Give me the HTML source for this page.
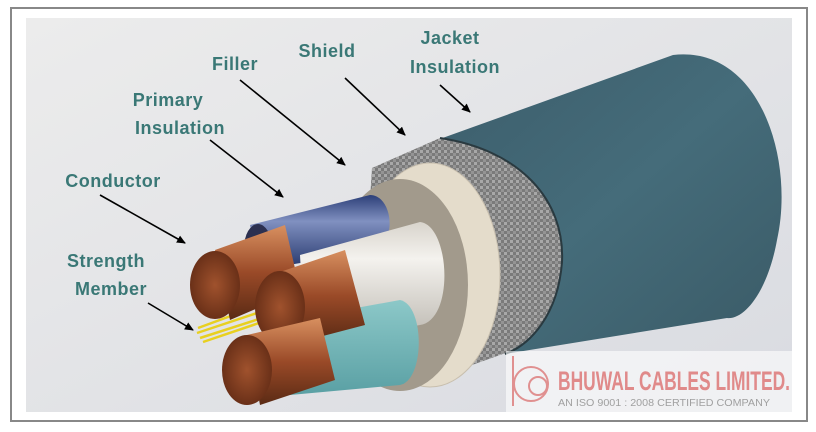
<!DOCTYPE html>
<html><head><meta charset="utf-8"><style>
html,body{margin:0;padding:0;background:#fff;}
svg{display:block}
.l{font-family:"Liberation Sans",sans-serif;font-weight:bold;font-size:18px;fill:#3a7876;letter-spacing:0.5px;text-anchor:middle}
</style></head><body>
<svg width="816" height="432" viewBox="0 0 816 432" xmlns="http://www.w3.org/2000/svg">
<defs>
<linearGradient id="bg" x1="0" y1="0" x2="1" y2="1"><stop offset="0" stop-color="#ececec"/><stop offset="1" stop-color="#d9dbe1"/></linearGradient>
<linearGradient id="jk" x1="0" y1="0" x2="1" y2="1"><stop offset="0" stop-color="#3c5d6b"/><stop offset=".5" stop-color="#456c7a"/><stop offset="1" stop-color="#3a5a66"/></linearGradient>
<pattern id="br" width="6" height="6" patternUnits="userSpaceOnUse"><rect width="6" height="6" fill="#7a7a7a"/><rect width="3" height="3" fill="#a8a8a8"/><rect x="3" y="3" width="3" height="3" fill="#949494"/></pattern>
<radialGradient id="cu"><stop offset="0" stop-color="#a0522d"/><stop offset="1" stop-color="#6a3018"/></radialGradient>
<linearGradient id="cub" x1="0" y1="0" x2="0" y2="1"><stop offset="0" stop-color="#d89060"/><stop offset=".5" stop-color="#9a4a28"/><stop offset="1" stop-color="#5a2a14"/></linearGradient>
<linearGradient id="wh" x1="0" y1="0" x2="0" y2="1"><stop offset="0" stop-color="#d8d4cc"/><stop offset=".3" stop-color="#f4f2ee"/><stop offset="1" stop-color="#b8b4ac"/></linearGradient>
<linearGradient id="bl" x1="0" y1="0" x2="0" y2="1"><stop offset="0" stop-color="#2c3f78"/><stop offset=".35" stop-color="#8090c0"/><stop offset="1" stop-color="#23356a"/></linearGradient>
<linearGradient id="tl" x1="0" y1="0" x2="0" y2="1"><stop offset="0" stop-color="#8cc8c8"/><stop offset="1" stop-color="#5aa0a4"/></linearGradient>
<marker id="ah" markerWidth="10" markerHeight="10" refX="8" refY="4" orient="auto" markerUnits="userSpaceOnUse"><path d="M0,0 L9,4 L0,8 Z" fill="#000"/></marker>
</defs>
<rect x="11" y="8" width="796" height="413" fill="#fff" stroke="#888" stroke-width="2"/>
<rect x="26" y="18" width="766" height="394" fill="url(#bg)"/>
<path d="M437,140 L673,55 C760,45 795,160 777,240 C768,290 745,320 727,318 L505,354 C540,330 565,290 560,240 C555,190 520,160 437,140 Z" fill="url(#jk)"/>
<path d="M372,168 L440,138 C520,150 565,200 562,262 C558,315 530,345 500,355 L430,380 C400,392 370,390 360,360 Z" fill="url(#br)"/>
<path d="M440,138 C520,150 565,200 562,262 C558,315 530,345 505,354" fill="none" stroke="#2a3a40" stroke-width="2"/>
<ellipse cx="430" cy="275" rx="70" ry="112" fill="#e4dccb" stroke="#c8bfae"/>
<ellipse cx="400" cy="285" rx="68" ry="106" fill="#a29a8c"/>
<path d="M250,225 L370,195 C392,195 398,240 375,250 L260,270 Z" fill="url(#bl)"/>
<ellipse cx="258" cy="248" rx="14" ry="24" fill="#2c3050"/>
<path d="M300,255 L420,222 C450,225 455,320 420,325 L305,345 Z" fill="url(#wh)"/>
<path d="M290,320 L400,300 C425,305 425,380 400,385 L290,395 Z" fill="url(#tl)"/>
<g stroke="#e8d020" stroke-width="2.5"><line x1="197" y1="333" x2="260" y2="312"/><line x1="200" y1="338" x2="262" y2="318"/><line x1="198" y1="328" x2="258" y2="306"/><line x1="203" y1="342" x2="262" y2="322"/></g>
<path d="M215,250 L285,225 L300,290 L230,320 Z" fill="url(#cub)"/>
<ellipse cx="215" cy="285" rx="25" ry="34" fill="url(#cu)"/>
<path d="M280,272 L345,250 L365,325 L300,342 Z" fill="url(#cub)"/>
<ellipse cx="280" cy="307" rx="25" ry="36" fill="url(#cu)"/>
<path d="M247,335 L320,318 L335,380 L260,405 Z" fill="url(#cub)"/>
<ellipse cx="247" cy="370" rx="25" ry="35" fill="url(#cu)"/>
<text class="l" x="450" y="44">Jacket</text>
<text class="l" x="455" y="73">Insulation</text>
<text class="l" x="327" y="57">Shield</text>
<text class="l" x="235" y="70">Filler</text>
<text class="l" x="168" y="106">Primary</text>
<text class="l" x="180" y="134">Insulation</text>
<text class="l" x="113" y="187">Conductor</text>
<text class="l" x="106" y="267">Strength</text>
<text class="l" x="111" y="295">Member</text>
<g stroke="#000" stroke-width="1.6" marker-end="url(#ah)">
<line x1="440" y1="85" x2="470" y2="112"/>
<line x1="345" y1="78" x2="405" y2="135"/>
<line x1="240" y1="80" x2="345" y2="165"/>
<line x1="210" y1="140" x2="283" y2="197"/>
<line x1="100" y1="195" x2="185" y2="243"/>
<line x1="148" y1="303" x2="193" y2="330"/>
</g>
<rect x="506" y="351" width="286" height="61" fill="#ffffff" fill-opacity="0.6"/>
<g fill="none" stroke="#e09090" stroke-width="2"><circle cx="531" cy="384" r="17"/><line x1="513" y1="356" x2="513" y2="406"/><circle cx="538" cy="386" r="9"/></g>
<text x="558" y="390" font-family="Liberation Sans,sans-serif" font-weight="bold" font-size="27" fill="#e08a8a" textLength="232" lengthAdjust="spacingAndGlyphs">BHUWAL CABLES LIMITED.</text>
<text x="558" y="406" font-family="Liberation Sans,sans-serif" font-size="10" fill="#a0a0a0" textLength="212" lengthAdjust="spacingAndGlyphs">AN ISO 9001 : 2008 CERTIFIED COMPANY</text>
</svg>
</body></html>
